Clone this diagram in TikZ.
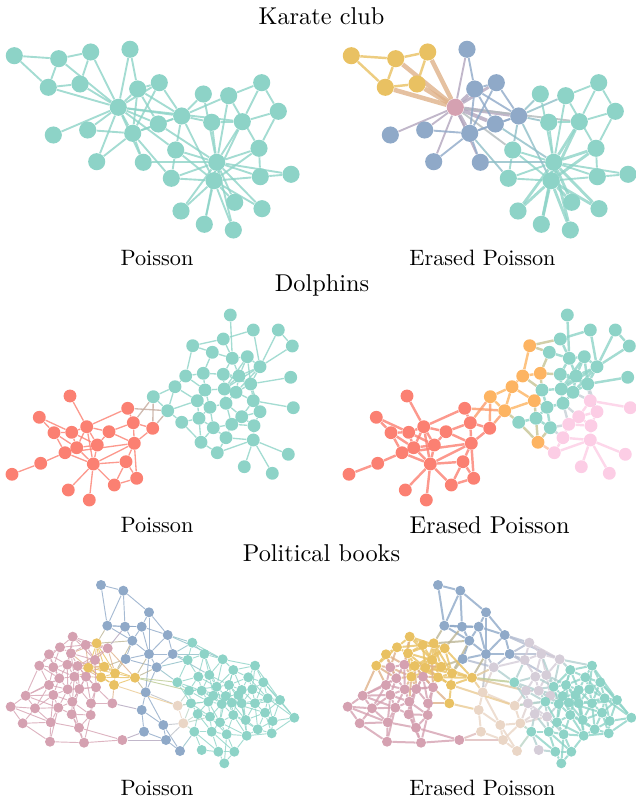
\documentclass[tikz,border=0pt]{standalone}
\usetikzlibrary{backgrounds}

\definecolor{cteal}{HTML}{8DD3C7}
\definecolor{cred}{HTML}{FB8072}
\definecolor{cblue}{HTML}{8FA9C8}
\definecolor{cyel}{HTML}{E9C162}
\definecolor{cpink}{HTML}{D5A1B1}
\definecolor{corange}{HTML}{FDB462}
\definecolor{clpink}{HTML}{FCCDE5}
\definecolor{clav}{HTML}{D5CDD8}
\definecolor{cbeige}{HTML}{EAD6C6}

\tikzset{
  kdot/.style={circle, inner sep=0pt, minimum size=7.7pt},
  ddot/.style={circle, inner sep=0pt, minimum size=5.8pt},
  pdot/.style={circle, inner sep=0pt, minimum size=4.5pt},
  kedge/.style={line width=0.85pt, draw opacity=0.8},
  dedge/.style={line width=0.6pt, draw opacity=0.8},
  pedge/.style={line width=0.42pt, draw opacity=0.8},
  title/.style={font=\fontsize{10.95}{13}\selectfont},
  caption/.style={font=\fontsize{10}{12}\selectfont},
}

% edge coloured by the groups of its two end nodes
\newcommand\netedge[4]{%
  \edef\ca{\csname g#1#2\endcsname}%
  \edef\cb{\csname g#1#3\endcsname}%
  \draw[#4, draw=\ca!50!\cb] (#1#2) -- (#1#3);}

% karate club: id/x/y/group (erased)
\newcommand\karatenodes{1/118.3/107.3/cpink, 2/132.7/133.3/cblue, 3/181.7/116/cblue, 4/137.7/89/cblue,
5/90.7/52/cyel, 6/48.3/87.3/cyel, 7/58.7/58.7/cyel, 8/159.3/82.7/cblue,
9/175.7/150/cteal, 10/203.3/94/cteal, 11/80/84/cyel, 12/53.3/135/cblue,
13/130/49.3/cblue, 14/158.3/124/cblue, 15/234.7/202.3/cteal, 16/262/208.7/cteal,
17/14.3/55.7/cyel, 18/87.7/130/cblue, 19/181/211/cteal, 20/143.3/162.3/cblue,
21/204.3/224.3/cteal, 22/96.7/161.7/cblue, 23/233.3/230/cteal, 24/259/148.3/cteal,
25/261.7/82.7/cteal, 26/278.3/111.3/cteal, 27/291/174.3/cteal, 28/228.7/95.7/cteal,
29/211.7/122.3/cteal, 30/260.3/176.7/cteal, 31/171.3/178.3/cteal, 32/242.3/121.7/cteal,
33/214/180.7/cteal, 34/216.7/162.3/cteal}
\newcommand\karateedges{1/2/2, 1/3/2, 1/4/2, 1/5/2.4, 1/6/2.4, 1/7/2.4, 1/8/1.5, 1/9/1, 1/11/2.4, 1/12/1, 1/13/1,
1/14/2, 1/18/1, 1/20/1, 1/22/1, 1/32/1, 2/3/1, 2/4/1, 2/8/1, 2/14/1, 2/18/1, 2/20/1, 2/22/1, 2/31/1,
3/4/1, 3/8/1, 3/9/1, 3/10/1, 3/14/1, 3/28/1, 3/29/1, 3/33/1, 4/8/1, 4/13/1, 4/14/1,
5/7/1.3, 5/11/1.3, 6/7/1.3, 6/11/1.3, 6/17/1.3, 7/17/1.3, 9/31/1, 9/33/1, 9/34/1,
10/34/1, 14/34/1, 15/33/1.5, 15/34/1.5, 16/33/1.5, 16/34/1.5, 19/33/1.5, 19/34/1.5, 20/34/1,
21/33/1.5, 21/34/1.5, 23/33/1.5, 23/34/1.5, 24/26/1, 24/28/1, 24/30/1, 24/33/1.5, 24/34/1.5,
25/26/1, 25/28/1, 25/32/1, 26/32/1, 27/30/1, 27/34/1, 28/34/1, 29/32/1, 29/34/1,
30/33/1, 30/34/1, 31/33/1, 31/34/1, 32/33/1.5, 32/34/1.5, 33/34/1.5}

% dolphins: id/x/y/group/group (erased)
\newcommand\dolphinnodes{r1/70/396/cred/cred, r2/127.7/408.3/cred/cred, r3/39.3/417.3/cred/cred,
r4/54/432.7/cred/cred, r5/71.7/432.3/cred/cred, r6/86.7/426.7/cred/cred, r7/109/431.7/cred/cred,
r8/133.3/422.7/cred/cred, r9/152.7/428.3/cred/cred, r10/134.3/443.3/cred/cred, r11/76.7/447.7/cred/cred,
r12/97.3/445/cred/cred, r13/65/452.7/cred/cred, r14/40.7/463.3/cred/cred, r15/12/474.3/cred/cred,
r16/93.3/464/cred/cred, r17/126/461.7/cred/cred, r18/136.7/478.3/cred/cred, r19/114.3/485/cred/cred,
r20/68.3/490/cred/cred, r21/89.3/500/cred/cred,
t1/230.3/315/cteal/cteal, t2/253.3/330/cteal/cteal, t3/278.3/330/cteal/cteal, t4/292.3/346/cteal/cteal,
t5/223.3/339/cteal/cteal, t6/192.7/345.7/cteal/corange, t7/212.3/352.3/cteal/cteal, t8/232.3/358.3/cteal/cteal,
t9/247.3/356.7/cteal/cteal, t10/260/366.7/cteal/cteal, t11/185.7/376/cteal/corange, t12/203.3/373.3/cteal/corange,
t13/223.3/374.3/cteal/cteal, t14/239/376/cteal/cteal, t15/250.7/384/cteal/cteal, t16/290.7/377.3/cteal/cteal,
t17/175/386.7/cteal/corange, t18/205/390/cteal/cteal, t19/224.3/389/cteal/cteal, t20/236/392.3/cteal/cteal,
t21/153.3/396.7/cteal/corange, t22/197.3/400.7/cteal/corange, t23/226/403.3/cteal/cteal, t24/253.3/400.7/cteal/clpink,
t25/210/407.3/cteal/cteal, t26/260/411.7/cteal/clpink, t27/293.3/407.7/cteal/clpink, t28/167.7/410.7/cteal/corange,
t29/199/418.3/cteal/cteal, t30/241.7/416.7/cteal/clpink, t31/181.7/422.3/cteal/cteal, t32/213.3/427.7/cteal/cteal,
t33/231.7/424.3/cteal/clpink, t34/254/425.7/cteal/clpink, t35/226/437.7/cteal/clpink, t36/201/442.3/cteal/corange,
t37/253.3/440/cteal/clpink, t38/217.3/452.7/cteal/clpink, t39/288.3/454.3/cteal/clpink, t40/244.3/466.7/cteal/clpink,
t41/272.3/473.3/cteal/clpink}
\newcommand\dolphinedges{r1/r6, r2/r6, r2/r8, r3/r4, r3/r5, r4/r5, r4/r11, r4/r13, r5/r6, r5/r11, r5/r12,
r6/r7, r6/r11, r6/r12, r6/r16, r7/r8, r7/r10, r7/r12, r8/r9, r8/r10, r9/r10, r10/r17, r10/r18,
r10/r16, r10/r13, r11/r13, r11/r16, r11/r12, r13/r14, r13/r16, r14/r15, r16/r17, r16/r19, r16/r20,
r16/r21, r17/r18, r17/r19, r18/r19, r12/r16, r8/t21, r9/t21, r9/t28, r2/t28,
t1/t8, t2/t5, t2/t10, t3/t10, t3/t4, t4/t10, t5/t6, t5/t8, t6/t11, t6/t7, t7/t12, t7/t8, t8/t9,
t8/t13, t8/t14, t9/t10, t9/t14, t9/t15, t10/t14, t10/t15, t10/t19, t15/t16, t11/t12, t11/t17,
t11/t18, t12/t13, t12/t18, t13/t14, t13/t19, t13/t15, t14/t15, t14/t20, t15/t20, t15/t24,
t17/t21, t17/t22, t17/t28, t18/t19, t18/t22, t18/t25, t19/t20, t19/t23, t20/t24, t20/t23,
t21/t28, t22/t25, t22/t29, t22/t28, t23/t25, t23/t30, t23/t33, t24/t26, t24/t27, t24/t30,
t25/t29, t25/t32, t26/t30, t26/t34, t28/t31, t29/t31, t29/t32, t29/t36, t30/t33, t30/t34,
t31/t36, t32/t33, t32/t35, t32/t36, t33/t35, t33/t34, t34/t37, t35/t37, t35/t38, t37/t39,
t37/t41, t37/t40, t37/t38, t36/t38, t14/t19, t9/t19, t10/t20, t15/t26}

% political books: id/x/y/group/group (erased)
\newcommand\booknodes{b1/101/585/cblue/cblue, b2/123.3/590.7/cblue/cblue, b3/149/612.3/cblue/cblue,
b4/107.3/625.7/cblue/cblue, b5/125/626.7/cblue/cblue, b6/141.7/626.7/cblue/cblue, b7/167.7/635/cblue/cblue,
b8/132.3/640.7/cblue/cblue, b9/149/654/cblue/cblue, b10/172.7/654/cblue/cblue, b11/125.7/659/cblue/cblue,
b12/156.7/667.3/cblue/clav, b13/145.7/692.3/cblue/cbeige, b14/141.7/710/cblue/cbeige,
b15/163.3/725/cblue/cbeige, b16/144/731.7/cblue/cbeige, b17/166/740/cblue/cbeige, b18/180/751/cblue/cbeige,
y1/96.7/643.3/cyel/cyel, y2/104.3/666.7/cyel/cyel, y3/88.3/667.7/cyel/cyel, y4/115/673.3/cyel/cyel,
y5/101/677.3/cyel/cyel, y6/135/677.7/cyel/cyel, y7/114/685/cyel/cyel,
e1/177.7/705.7/cbeige/cbeige, e2/183.3/723.3/cbeige/cbeige,
p1/72.7/636.7/cpink/cyel, p2/85.7/645/cpink/cyel, p3/107.7/648.3/cpink/cyel, p4/60/647.3/cpink/cyel,
p5/71/653.3/cpink/cyel, p6/49/654.3/cpink/cyel, p7/95/660/cpink/cyel, p8/39.3/665.7/cpink/cyel,
p9/53.3/667.3/cpink/cpink, p10/67.3/664.7/cpink/cpink, p11/77.7/666/cpink/cyel, p12/59.3/678.3/cpink/cpink,
p13/74.3/676.7/cpink/cyel, p14/86/676.7/cpink/cpink, p15/49/685/cpink/cpink, p16/67.7/689.3/cpink/cpink,
p17/79.3/689/cpink/cpink, p18/96/687.3/cpink/cpink, p19/25.7/695.7/cpink/cpink, p20/53.3/695/cpink/cpink,
p21/72.3/701.7/cpink/cpink, p22/10.7/706.7/cpink/cpink, p23/35/708.3/cpink/cpink, p24/58.3/707.7/cpink/cpink,
p25/91/703.3/cpink/cpink, p26/112.3/703.3/cpink/cyel, p27/71.7/714.3/cpink/cpink, p28/90.7/715/cpink/cpink,
p29/22.7/723.3/cpink/cpink, p30/50.7/722.3/cpink/cpink, p31/79/727.7/cpink/cpink, p32/50/741.7/cpink/cpink,
p33/84/742.7/cpink/cpink, p34/122.3/740/cpink/cpink,
T1/192.3/642.7/cteal/clav, T2/187.7/660/cteal/clav, T3/204.3/654/cteal/clav, T4/222.7/659.3/cteal/clav,
T5/255/665.7/cteal/cteal, T6/233.3/670/cteal/cteal, T7/177.3/682.3/cteal/cteal, T8/198.3/676.7/cteal/clav,
T9/209.3/675/cteal/clav, T10/248.3/677.3/cteal/cteal, T11/263.3/682.3/cteal/cteal, T12/189/690.7/cteal/clav,
T13/201.7/690.7/cteal/clav, T14/216.7/686.7/cteal/cteal, T15/229/685/cteal/cteal, T16/241.7/690/cteal/cteal,
T17/252.3/689.3/cteal/cteal, T18/213.3/695.7/cteal/clav, T19/225.7/696/cteal/cteal, T20/238.3/695/cteal/cteal,
T21/267.7/698.3/cteal/cteal, T22/280/700/cteal/cteal, T23/191/703.3/cteal/clav, T24/208.3/701.7/cteal/cteal,
T25/221.7/704/cteal/cteal, T26/231.7/702.7/cteal/cteal, T27/241.7/703.3/cteal/cteal, T28/255/703.3/cteal/cteal,
T29/197.7/714/cteal/clav, T30/210/716.7/cteal/clav, T31/220/722.3/cteal/cteal, T32/233.3/715/cteal/cteal,
T33/245.7/720/cteal/cteal, T34/265/712.7/cteal/cteal, T35/272.7/721/cteal/cteal, T36/294.3/717.7/cteal/cteal,
T37/194.3/731.7/cteal/cteal, T38/211.7/731.7/cteal/cteal, T39/226.7/734.3/cteal/cteal, T40/246.7/735.7/cteal/cteal,
T41/257.7/729.3/cteal/cteal, T42/271.7/733.3/cteal/cteal, T43/201.7/750/cteal/clav, T44/218.3/751.7/cteal/cteal,
T45/234.3/751.7/cteal/cteal, T46/224.3/763.3/cteal/cteal}
\newcommand\bookedges{b1/b2, b1/b4, b2/b3, b2/b4, b2/b5, b3/b6, b3/b7, b4/b5, b4/b8, b4/b6, b5/b6, b5/b8,
b6/b8, b6/b7, b6/b9, b7/b10, b7/b9, b8/b9, b8/b11, b9/b10, b9/b11, b9/b12, b9/b13, b10/b12, b11/b12,
b12/b13, b13/b14, b14/b16, b14/b15, b13/b15, b15/b17, b16/b17, b17/b18, b15/b18, b3/b9,
b4/y1, b8/y1, b8/y4, b11/y4, b11/y2, b12/y6, b9/y6, b10/T1, b7/T1, b10/T2, b12/T7, b13/y6, b14/p26,
b15/e2, b16/p34, b17/p34, b18/T37, b13/e1, b5/p3, b12/T2, b10/T3, b7/T4, b10/T9, b17/e2,
y1/y2, y1/y3, y1/p2, y1/p3, y2/y3, y2/y4, y2/y5, y3/y5, y3/p7, y4/y5, y4/y6, y4/y7, y5/y7, y6/y7,
y5/p14, y3/p11, y2/p7, y6/T7, y7/e1, y4/p3, y2/p13, y5/p18, y7/p26, y3/p2, y1/p7, y6/T12,
y1/y4, y1/y5, y3/y4, y2/y6, y3/y7, y5/y6, y1/p5, y3/p5, y4/p7, y5/p11, y2/p10, y6/p3,
p1/p2, p1/p4, p1/p5, p1/p10, p2/p3, p2/p5, p2/p7, p3/p7, p4/p5, p4/p6, p4/p9, p5/p10, p5/p11, p5/p7,
p6/p8, p6/p9, p6/p10, p7/p11, p7/p14, p7/p18, p8/p9, p8/p12, p8/p15, p9/p10, p9/p12, p10/p11,
p10/p13, p11/p13, p11/p14, p12/p13, p12/p15, p12/p16, p13/p14, p13/p16, p13/p17, p14/p17, p14/p18,
p15/p16, p15/p20, p15/p19, p16/p17, p16/p20, p16/p21, p17/p18, p17/p21, p17/p25, p18/p25, p19/p22,
p19/p23, p19/p20, p20/p23, p20/p24, p20/p21, p21/p24, p21/p27, p21/p28, p22/p23, p22/p29, p23/p24,
p23/p29, p24/p27, p24/p30, p25/p28, p25/p26, p27/p28, p27/p31, p28/p31, p28/p33, p29/p30, p29/p32,
p30/p32, p30/p31, p31/p33, p32/p33, p33/p34, p31/p34, p12/p19, p19/p24, p23/p30, p14/p25, p18/p26, p9/p15,
p1/p3, p2/p4, p3/p11, p4/p8, p6/p12, p8/p19, p9/p13, p10/p12, p10/p16, p11/p17, p12/p20, p13/p21,
p14/p21, p15/p23, p16/p24, p17/p27, p18/p28, p20/p30, p21/p31, p22/p30, p24/p32, p27/p33, p16/p18,
p5/p13, p11/p18, p1/p7,
e1/e2, e1/T12, e1/T23, e2/T29, e2/T37, e2/T23, e1/T24, e2/T30,
T1/T2, T1/T3, T1/T4, T2/T3, T2/T7, T2/T8, T3/T4, T3/T9, T3/T8, T4/T6, T4/T5, T4/T9, T4/T14, T5/T6,
T5/T10, T5/T11, T6/T10, T6/T15, T6/T16, T7/T8, T7/T12, T7/T23, T8/T9, T8/T12, T8/T13, T9/T14, T9/T13,
T9/T18, T10/T11, T10/T16, T10/T17, T11/T17, T11/T21, T12/T13, T12/T23, T13/T18, T13/T24, T14/T15,
T14/T18, T14/T19, T15/T16, T15/T19, T15/T20, T16/T17, T16/T20, T16/T27, T17/T21, T17/T28, T18/T19,
T18/T24, T18/T25, T19/T20, T19/T25, T19/T26, T20/T26, T20/T27, T21/T22, T21/T28, T21/T34, T22/T36,
T22/T34, T23/T24, T23/T29, T24/T25, T24/T29, T24/T30, T25/T26, T25/T30, T25/T31, T26/T27, T26/T32,
T27/T28, T27/T33, T28/T34, T28/T33, T29/T30, T29/T37, T30/T31, T30/T38, T31/T32, T31/T38, T31/T39,
T32/T33, T32/T39, T33/T40, T33/T41, T34/T35, T34/T41, T35/T36, T35/T42, T36/T42, T37/T38, T37/T43,
T38/T39, T38/T44, T39/T40, T39/T45, T40/T41, T40/T45, T41/T42, T43/T44, T44/T45, T44/T46, T45/T46,
T12/T14, T13/T19, T15/T26, T16/T28, T20/T32, T19/T31, T9/T15, T14/T25, T22/T35, T21/T35, T6/T14,
T10/T15, T17/T27, T26/T33, T32/T40, T3/T14, T11/T22,
T5/T17, T6/T19, T7/T13, T8/T14, T10/T21, T11/T28, T12/T24, T13/T25, T15/T27, T16/T33, T18/T26,
T19/T32, T20/T33, T21/T27, T22/T28, T23/T30, T24/T31, T25/T32, T26/T34, T27/T40, T28/T41, T29/T38,
T30/T39, T31/T40, T32/T41, T33/T34, T34/T42, T35/T41, T36/T21, T37/T44, T38/T45, T39/T46, T40/T42,
T5/T22, T11/T36}

\begin{document}
\begin{tikzpicture}[x=0.45pt, y=-0.45pt]
    \useasboundingbox (0,0) rectangle (635,800);

    % titles and captions
    \node[title] (tkarate) at (321.5,16) {Karate club};
    \node[caption] (kpois) at (157,258) {Poisson};
    \node[caption] (kerased) at (482.5,258) {Erased Poisson};
    \node[title] (tdolphins) at (322,285) {Dolphins};
    \node[caption] (dpois) at (157,525) {Poisson};
    \node[title] (derased) at (489.5,525) {Erased Poisson};
    \node[title] (tbooks) at (321.5,553) {Political books};
    \node[caption] (ppois) at (157,788) {Poisson};
    \node[caption] (perased) at (482.5,788) {Erased Poisson};

    % karate club
    \foreach \i/\x/\y/\gr in \karatenodes {
        \node[kdot, fill=cteal] (kl\i) at (\x,\y) {};
        \expandafter\xdef\csname gkl\i\endcsname{cteal}
        \node[kdot, fill=\gr] (kr\i) at (\x+337,\y) {};
        \expandafter\xdef\csname gkr\i\endcsname{\gr}
    }
    \begin{scope}[on background layer]
        \foreach \a/\b/\w in \karateedges {
            \netedge{kl}{\a}{\b}{kedge}
            \netedge{kr}{\a}{\b}{kedge, line width=\w*0.85pt}
        }
    \end{scope}

    % dolphins
    \foreach \i/\x/\y/\gl/\gr in \dolphinnodes {
        \node[ddot, fill=\gl] (dl\i) at (\x,\y) {};
        \expandafter\xdef\csname gdl\i\endcsname{\gl}
        \node[ddot, fill=\gr] (dr\i) at (\x+337,\y) {};
        \expandafter\xdef\csname gdr\i\endcsname{\gr}
    }
    \begin{scope}[on background layer]
        \foreach \a/\b in \dolphinedges {
            \netedge{dl}{\a}{\b}{dedge}
            \netedge{dr}{\a}{\b}{dedge, line width=1.1pt}
        }
    \end{scope}

    % political books
    \foreach \i/\x/\y/\gl/\gr in \booknodes {
        \node[pdot, fill=\gl] (pl\i) at (\x,\y) {};
        \expandafter\xdef\csname gpl\i\endcsname{\gl}
        \node[pdot, fill=\gr] (pr\i) at (\x+337,\y) {};
        \expandafter\xdef\csname gpr\i\endcsname{\gr}
    }
    \begin{scope}[on background layer]
        \foreach \a/\b in \bookedges {
            \netedge{pl}{\a}{\b}{pedge}
            \netedge{pr}{\a}{\b}{pedge, line width=0.9pt}
        }
    \end{scope}
\end{tikzpicture}
\end{document}
